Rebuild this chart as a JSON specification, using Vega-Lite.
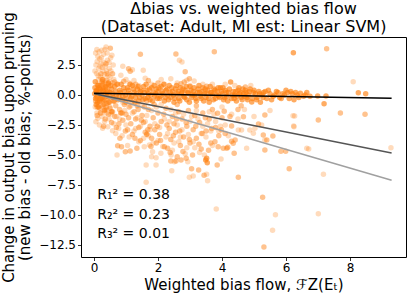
{
  "$schema": "https://vega.github.io/schema/vega-lite/v6.json",
  "width": 325,
  "height": 220,
  "autosize": "none",
  "padding": {"left": 81, "top": 37, "right": 1, "bottom": 38},
  "config": {
    "font": "DejaVu Sans",
    "view": {"stroke": "#000000", "strokeWidth": 1},
    "axis": {"grid": false, "domain": false, "tickColor": "#000000", "tickSize": 3.5, "tickWidth": 0.8, "labelColor": "#000000", "labelFontSize": 12, "titleColor": "#000000", "titleFontSize": 15, "titleFontWeight": "normal", "labelPadding": 2}
  },
  "title": {"text": ["Δbias vs. weighted bias flow", "(Dataset: Adult, MI est: Linear SVM)"], "fontSize": 16, "fontWeight": "normal", "lineHeight": 18, "offset": -23, "color": "#000000", "anchor": "middle"},
  "datasets": {
    "pts": [
      {"x":0.05,"y":3.5,"s":"L"},{"x":0.1,"y":2.8,"s":"L"},{"x":0.12,"y":3.2,"s":"L"},{"x":0.15,"y":2.2,"s":"L"},{"x":0.18,"y":3.0,"s":"L"},{"x":0.2,"y":1.5,"s":"L"},{"x":0.22,"y":2.6,"s":"L"},{"x":0.24,"y":3.72,"s":"L"},{"x":0.25,"y":1.0,"s":"L"},{"x":0.28,"y":2.0,"s":"L"},{"x":0.3,"y":3.4,"s":"L"},{"x":0.33,"y":1.7,"s":"L"},{"x":0.35,"y":2.4,"s":"L"},{"x":0.375,"y":4.0,"s":"L"},{"x":0.4,"y":1.2,"s":"L"},{"x":0.42,"y":2.9,"s":"L"},{"x":0.45,"y":0.7,"s":"L"},{"x":0.48,"y":2.2,"s":"L"},{"x":0.5,"y":1.5,"s":"L"},{"x":0.52,"y":3.1,"s":"L"},{"x":0.56,"y":3.31,"s":"L"},{"x":0.6,"y":2.5,"s":"L"},{"x":0.62,"y":1.3,"s":"L"},{"x":0.08,"y":1.8,"s":"L"},{"x":0.1,"y":0.9,"s":"L"},{"x":0.14,"y":1.3,"s":"L"},{"x":0.28,"y":0.6,"s":"L"},
      {"x":0.03,"y":2.0,"s":"L"},{"x":0.06,"y":2.5,"s":"L"},{"x":0.09,"y":3.8,"s":"L"},{"x":0.13,"y":1.6,"s":"L"},{"x":0.16,"y":3.6,"s":"L"},{"x":0.19,"y":2.4,"s":"L"},{"x":0.21,"y":0.8,"s":"L"},{"x":0.23,"y":3.1,"s":"L"},{"x":0.26,"y":2.3,"s":"L"},{"x":0.29,"y":1.3,"s":"L"},{"x":0.31,"y":2.7,"s":"L"},{"x":0.34,"y":3.8,"s":"L"},{"x":0.36,"y":1.0,"s":"L"},{"x":0.39,"y":2.0,"s":"L"},{"x":0.41,"y":3.5,"s":"L"},{"x":0.44,"y":1.6,"s":"L"},{"x":0.47,"y":2.7,"s":"L"},{"x":0.49,"y":1.1,"s":"L"},{"x":0.53,"y":2.0,"s":"L"},{"x":0.57,"y":1.0,"s":"L"},
      {"x":0.84,"y":1.64,"s":"L"},{"x":1.54,"y":2.06,"s":"L"},{"x":0.375,"y":1.22,"s":"L"},{"x":1.0,"y":1.3,"s":"L"},{"x":1.25,"y":1.2,"s":"L"},{"x":1.6,"y":1.4,"s":"L"},{"x":2.1,"y":1.3,"s":"L"},{"x":2.4,"y":1.35,"s":"L"},{"x":2.67,"y":2.89,"s":"L"},{"x":2.75,"y":2.75,"s":"L"},{"x":2.9,"y":1.22,"s":"L"},{"x":3.13,"y":1.17,"s":"L"},{"x":0.7,"y":0.9,"s":"L"},{"x":1.4,"y":0.8,"s":"L"},{"x":2.2,"y":0.9,"s":"L"},{"x":3.4,"y":0.9,"s":"L"},{"x":4.4,"y":0.8,"s":"L"},{"x":8.1,"y":1.11,"s":"L"},{"x":0.9,"y":2.4,"s":"L"},{"x":1.2,"y":2.1,"s":"L"},{"x":1.8,"y":0.9,"s":"L"},{"x":2.6,"y":1.0,"s":"L"},{"x":3.0,"y":0.8,"s":"L"},{"x":3.7,"y":0.9,"s":"L"},{"x":4.1,"y":0.9,"s":"L"},{"x":4.9,"y":0.8,"s":"L"},{"x":1.1,"y":1.0,"s":"L"},
      {"x":0.06,"y":-2.22,"s":"L"},{"x":0.27,"y":-2.78,"s":"L"},{"x":0.43,"y":-2.64,"s":"L"},{"x":0.58,"y":-2.97,"s":"L"},{"x":0.12,"y":-1.94,"s":"L"},{"x":0.22,"y":-1.53,"s":"L"},{"x":0.72,"y":-5.0,"s":"L"},{"x":1.57,"y":-4.31,"s":"L"},{"x":1.73,"y":-4.17,"s":"L"},{"x":1.83,"y":-4.72,"s":"L"},{"x":1.8,"y":-5.14,"s":"L"},{"x":1.94,"y":-5.22,"s":"L"},{"x":2.09,"y":-4.86,"s":"L"},{"x":2.41,"y":-5.0,"s":"L"},{"x":2.51,"y":-5.56,"s":"L"},{"x":2.93,"y":-5.56,"s":"L"},{"x":1.63,"y":-5.83,"s":"L"},{"x":1.94,"y":-5.83,"s":"L"},{"x":1.63,"y":-7.28,"s":"L"},{"x":2.43,"y":-6.31,"s":"L"},{"x":2.98,"y":-6.86,"s":"L"},{"x":3.1,"y":-6.75,"s":"L"},{"x":3.55,"y":-7.14,"s":"L"},{"x":3.97,"y":-5.33,"s":"L"},{"x":4.77,"y":-4.44,"s":"L"},{"x":5.34,"y":-3.75,"s":"L"},{"x":4.87,"y":-2.92,"s":"L"},{"x":4.98,"y":-3.19,"s":"L"},{"x":4.51,"y":-2.92,"s":"L"},{"x":4.61,"y":-2.92,"s":"L"},{"x":6.24,"y":-2.58,"s":"L"},{"x":6.22,"y":-1.72,"s":"L"},{"x":6.27,"y":-1.75,"s":"L"},{"x":6.25,"y":-2.64,"s":"L"},{"x":6.71,"y":-4.5,"s":"L"},{"x":9.28,"y":-4.39,"s":"L"},{"x":7.17,"y":-6.61,"s":"L"},{"x":7.01,"y":-9.89,"s":"L"},{"x":3.82,"y":-9.5,"s":"L"},{"x":5.67,"y":-9.97,"s":"L"},{"x":5.58,"y":-11.28,"s":"L"},{"x":5.24,"y":-2.5,"s":"L"},{"x":5.03,"y":-2.78,"s":"L"},{"x":6.65,"y":-4.44,"s":"L"},{"x":3.52,"y":-6.6,"s":"L"},
      {"x":0.3,"y":-0.5,"s":"L"},{"x":0.5,"y":-1.0,"s":"L"},{"x":0.7,"y":-1.8,"s":"L"},{"x":0.9,"y":-0.6,"s":"L"},{"x":1.0,"y":-2.5,"s":"L"},{"x":1.1,"y":-3.5,"s":"L"},{"x":1.2,"y":-1.5,"s":"L"},{"x":1.3,"y":-2.8,"s":"L"},{"x":1.4,"y":-3.9,"s":"L"},{"x":1.5,"y":-0.9,"s":"L"},{"x":1.6,"y":-2.2,"s":"L"},{"x":1.7,"y":-3.4,"s":"L"},{"x":1.8,"y":-1.3,"s":"L"},{"x":1.9,"y":-2.4,"s":"L"},{"x":2.0,"y":-3.8,"s":"L"},{"x":2.1,"y":-0.8,"s":"L"},{"x":2.2,"y":-2.0,"s":"L"},{"x":2.3,"y":-3.2,"s":"L"},{"x":2.4,"y":-1.2,"s":"L"},{"x":2.5,"y":-4.0,"s":"L"},{"x":2.6,"y":-2.5,"s":"L"},{"x":2.7,"y":-3.5,"s":"L"},{"x":2.8,"y":-1.6,"s":"L"},{"x":2.9,"y":-4.4,"s":"L"},{"x":3.0,"y":-2.2,"s":"L"},{"x":3.1,"y":-3.9,"s":"L"},{"x":3.2,"y":-1.3,"s":"L"},{"x":3.3,"y":-4.8,"s":"L"},{"x":3.4,"y":-2.6,"s":"L"},{"x":3.5,"y":-3.5,"s":"L"},{"x":3.6,"y":-1.4,"s":"L"},{"x":3.7,"y":-4.2,"s":"L"},{"x":3.8,"y":-2.2,"s":"L"},{"x":3.9,"y":-3.0,"s":"L"},{"x":4.0,"y":-1.0,"s":"L"},{"x":4.1,"y":-2.5,"s":"L"},{"x":4.2,"y":-3.4,"s":"L"},{"x":4.3,"y":-1.6,"s":"L"},{"x":4.5,"y":-2.0,"s":"L"},{"x":4.7,"y":-1.2,"s":"L"},{"x":5.0,"y":-1.8,"s":"L"},{"x":5.5,"y":-1.3,"s":"L"},{"x":0.2,"y":-0.3,"s":"L"},{"x":0.4,"y":-1.2,"s":"L"},{"x":0.6,"y":-0.2,"s":"L"},{"x":0.8,"y":-2.0,"s":"L"},
      {"x":0.04,"y":-1.0,"s":"L"},{"x":0.09,"y":-1.5,"s":"L"},{"x":0.17,"y":-2.5,"s":"L"},{"x":0.25,"y":-1.8,"s":"L"},{"x":0.33,"y":-2.2,"s":"L"},{"x":0.38,"y":-1.5,"s":"L"},{"x":0.47,"y":-2.0,"s":"L"},{"x":0.53,"y":-1.6,"s":"L"},{"x":0.62,"y":-2.4,"s":"L"},{"x":0.68,"y":-3.2,"s":"L"},{"x":0.77,"y":-2.8,"s":"L"},{"x":0.88,"y":-3.4,"s":"L"},{"x":0.96,"y":-1.3,"s":"L"},{"x":1.05,"y":-4.2,"s":"L"},{"x":1.15,"y":-0.9,"s":"L"},{"x":1.25,"y":-3.0,"s":"L"},{"x":1.35,"y":-1.9,"s":"L"},{"x":1.45,"y":-2.6,"s":"L"},{"x":1.55,"y":-3.6,"s":"L"},{"x":1.65,"y":-1.7,"s":"L"},{"x":1.75,"y":-2.9,"s":"L"},{"x":1.85,"y":-4.0,"s":"L"},{"x":1.95,"y":-1.0,"s":"L"},{"x":2.05,"y":-2.7,"s":"L"},{"x":2.15,"y":-4.3,"s":"L"},{"x":2.25,"y":-3.5,"s":"L"},{"x":2.35,"y":-2.2,"s":"L"},{"x":2.45,"y":-4.6,"s":"L"},{"x":2.55,"y":-1.5,"s":"L"},{"x":2.65,"y":-3.9,"s":"L"},{"x":2.75,"y":-2.9,"s":"L"},{"x":2.85,"y":-4.9,"s":"L"},{"x":2.95,"y":-3.3,"s":"L"},{"x":3.05,"y":-1.8,"s":"L"},{"x":3.15,"y":-4.4,"s":"L"},{"x":3.25,"y":-2.0,"s":"L"},{"x":3.35,"y":-3.2,"s":"L"},{"x":3.45,"y":-5.0,"s":"L"},{"x":3.55,"y":-2.4,"s":"L"},{"x":3.65,"y":-3.0,"s":"L"},{"x":3.75,"y":-1.6,"s":"L"},{"x":3.95,"y":-2.6,"s":"L"},
      {"x":0.51,"y":3.89,"s":"M"},{"x":1.45,"y":3.39,"s":"M"},{"x":2.56,"y":3.42,"s":"M"},{"x":3.76,"y":3.61,"s":"M"},{"x":7.27,"y":3.86,"s":"M"},{"x":0.375,"y":2.61,"s":"M"},{"x":0.22,"y":1.78,"s":"M"},{"x":0.41,"y":1.78,"s":"M"},{"x":0.58,"y":1.78,"s":"M"},{"x":1.08,"y":2.19,"s":"M"},{"x":1.13,"y":1.97,"s":"M"},{"x":0.64,"y":1.08,"s":"M"},{"x":0.93,"y":1.14,"s":"M"},{"x":2.85,"y":1.94,"s":"M"},{"x":3.52,"y":0.72,"s":"M"},{"x":4.73,"y":0.67,"s":"M"},{"x":2.72,"y":0.94,"s":"M"},{"x":2.82,"y":1.08,"s":"M"},{"x":2.98,"y":1.36,"s":"M"},{"x":0.3,"y":0.5,"s":"M"},{"x":0.15,"y":0.8,"s":"M"},{"x":1.3,"y":0.9,"s":"M"},{"x":2.0,"y":1.0,"s":"M"},{"x":1.7,"y":1.2,"s":"M"},{"x":0.12,"y":0.4,"s":"M"},{"x":0.25,"y":1.1,"s":"M"},{"x":0.45,"y":0.9,"s":"M"},
      {"x":0.05,"y":-0.5,"s":"M"},{"x":0.1,"y":-1.0,"s":"M"},{"x":0.15,"y":-0.6,"s":"M"},{"x":0.2,"y":-1.5,"s":"M"},{"x":0.25,"y":-0.9,"s":"M"},{"x":0.32,"y":-1.31,"s":"M"},{"x":0.35,"y":-2.0,"s":"M"},{"x":0.4,"y":-0.7,"s":"M"},{"x":0.45,"y":-1.6,"s":"M"},{"x":0.5,"y":-1.1,"s":"M"},{"x":0.55,"y":-2.3,"s":"M"},{"x":0.6,"y":-0.5,"s":"M"},{"x":0.65,"y":-1.8,"s":"M"},{"x":0.7,"y":-2.7,"s":"M"},{"x":0.74,"y":-4.22,"s":"M"},{"x":0.81,"y":-3.61,"s":"M"},{"x":0.86,"y":-4.31,"s":"M"},{"x":0.8,"y":-1.2,"s":"M"},{"x":0.9,"y":-2.1,"s":"M"},{"x":0.95,"y":-0.8,"s":"M"},{"x":0.98,"y":-4.72,"s":"M"},{"x":1.0,"y":-1.6,"s":"M"},{"x":1.05,"y":-2.9,"s":"M"},{"x":1.1,"y":-1.0,"s":"M"},{"x":1.13,"y":-4.67,"s":"M"},{"x":1.15,"y":-2.4,"s":"M"},{"x":1.2,"y":-3.3,"s":"M"},{"x":1.25,"y":-1.4,"s":"M"},{"x":1.3,"y":-2.0,"s":"M"},{"x":1.34,"y":-4.44,"s":"M"},{"x":1.35,"y":-0.9,"s":"M"},{"x":1.4,"y":-2.7,"s":"M"},{"x":1.45,"y":-3.8,"s":"M"},{"x":1.5,"y":-1.7,"s":"M"},{"x":1.55,"y":-2.3,"s":"M"},{"x":1.6,"y":-3.1,"s":"M"},{"x":1.7,"y":-1.2,"s":"M"},{"x":1.75,"y":-2.6,"s":"M"},{"x":1.8,"y":-3.6,"s":"M"},{"x":1.85,"y":-1.9,"s":"M"},{"x":1.9,"y":-2.9,"s":"M"},{"x":1.95,"y":-4.0,"s":"M"},{"x":2.0,"y":-1.5,"s":"M"},{"x":2.05,"y":-3.3,"s":"M"},{"x":2.1,"y":-2.2,"s":"M"},{"x":2.2,"y":-4.31,"s":"M"},{"x":2.25,"y":-1.1,"s":"M"},{"x":2.3,"y":-4.44,"s":"M"},{"x":2.35,"y":-2.8,"s":"M"},{"x":2.4,"y":-3.7,"s":"M"},{"x":2.45,"y":-1.8,"s":"M"},{"x":2.5,"y":-2.4,"s":"M"},{"x":2.55,"y":-3.1,"s":"M"},{"x":2.6,"y":-5.14,"s":"M"},{"x":2.65,"y":-1.4,"s":"M"},{"x":2.7,"y":-4.2,"s":"M"},{"x":2.72,"y":-5.42,"s":"M"},{"x":2.75,"y":-2.0,"s":"M"},{"x":2.8,"y":-3.5,"s":"M"},{"x":2.88,"y":-5.28,"s":"M"},{"x":2.9,"y":-2.6,"s":"M"},{"x":2.95,"y":-1.3,"s":"M"},{"x":3.0,"y":-4.0,"s":"M"},{"x":3.05,"y":-6.14,"s":"M"},{"x":3.1,"y":-2.9,"s":"M"},{"x":3.15,"y":-1.7,"s":"M"},{"x":3.2,"y":-3.6,"s":"M"},{"x":3.27,"y":-6.25,"s":"M"},{"x":3.3,"y":-2.3,"s":"M"},{"x":3.35,"y":-4.5,"s":"M"},{"x":3.4,"y":-1.5,"s":"M"},{"x":3.44,"y":-6.69,"s":"M"},{"x":3.5,"y":-3.0,"s":"M"},{"x":3.6,"y":-2.0,"s":"M"},{"x":3.65,"y":-4.0,"s":"M"},{"x":3.7,"y":-1.2,"s":"M"},{"x":3.8,"y":-2.7,"s":"M"},{"x":3.85,"y":-5.83,"s":"M"},{"x":3.88,"y":-4.31,"s":"M"},{"x":3.9,"y":-3.4,"s":"M"},{"x":4.0,"y":-1.9,"s":"M"},{"x":4.04,"y":-4.44,"s":"M"},{"x":4.07,"y":-1.35,"s":"M"},{"x":4.15,"y":-4.44,"s":"M"},{"x":4.18,"y":-4.36,"s":"M"},{"x":4.3,"y":-3.86,"s":"M"},{"x":4.3,"y":-2.58,"s":"M"},{"x":4.38,"y":-4.86,"s":"M"},{"x":4.41,"y":-3.75,"s":"M"},{"x":4.35,"y":-4.03,"s":"M"},{"x":4.51,"y":-6.86,"s":"M"},{"x":4.67,"y":-1.81,"s":"M"},{"x":5.14,"y":-2.42,"s":"M"},{"x":5.27,"y":-8.53,"s":"M"},{"x":5.29,"y":-3.33,"s":"M"},{"x":5.31,"y":-12.67,"s":"M"},{"x":5.34,"y":-4.58,"s":"M"},{"x":5.34,"y":-1.67,"s":"M"},{"x":5.4,"y":-3.75,"s":"M"},{"x":5.59,"y":-3.42,"s":"M"},{"x":5.84,"y":-4.69,"s":"M"},{"x":5.99,"y":-4.69,"s":"M"},{"x":6.1,"y":-6.14,"s":"M"},{"x":7.01,"y":-2.08,"s":"M"},{"x":7.7,"y":-1.5,"s":"M"},{"x":8.47,"y":-1.61,"s":"M"},{"x":2.4,"y":-5.5,"s":"M"},{"x":2.56,"y":-5.5,"s":"M"},{"x":1.65,"y":-0.5,"s":"M"},{"x":2.6,"y":-0.8,"s":"M"},{"x":3.2,"y":-0.9,"s":"M"},{"x":4.6,"y":-0.9,"s":"M"},{"x":3.86,"y":-1.52,"s":"M"},
      {"x":0.08,"y":-0.2,"s":"M"},{"x":0.18,"y":-1.1,"s":"M"},{"x":0.28,"y":-0.4,"s":"M"},{"x":0.38,"y":-1.0,"s":"M"},{"x":0.48,"y":-0.6,"s":"M"},{"x":0.58,"y":-1.4,"s":"M"},{"x":0.68,"y":-0.9,"s":"M"},{"x":0.78,"y":-2.4,"s":"M"},{"x":0.88,"y":-1.5,"s":"M"},{"x":0.98,"y":-3.0,"s":"M"},{"x":1.08,"y":-1.9,"s":"M"},{"x":1.18,"y":-0.6,"s":"M"},{"x":1.28,"y":-3.6,"s":"M"},{"x":1.38,"y":-1.2,"s":"M"},{"x":1.48,"y":-2.1,"s":"M"},{"x":1.58,"y":-1.0,"s":"M"},{"x":1.68,"y":-2.9,"s":"M"},{"x":1.78,"y":-4.3,"s":"M"},{"x":1.88,"y":-0.8,"s":"M"},{"x":1.98,"y":-2.6,"s":"M"},{"x":2.08,"y":-3.8,"s":"M"},{"x":2.18,"y":-1.6,"s":"M"},{"x":2.28,"y":-2.5,"s":"M"},{"x":2.38,"y":-4.8,"s":"M"},{"x":2.48,"y":-3.4,"s":"M"},{"x":2.58,"y":-2.0,"s":"M"},{"x":2.68,"y":-3.0,"s":"M"},{"x":2.78,"y":-4.7,"s":"M"},{"x":2.88,"y":-2.3,"s":"M"},{"x":2.98,"y":-3.7,"s":"M"},{"x":3.08,"y":-5.0,"s":"M"},{"x":3.18,"y":-2.6,"s":"M"},{"x":3.28,"y":-4.1,"s":"M"},{"x":3.38,"y":-3.2,"s":"M"},{"x":3.48,"y":-1.9,"s":"M"},{"x":3.58,"y":-4.6,"s":"M"},{"x":3.68,"y":-2.8,"s":"M"},{"x":3.78,"y":-3.9,"s":"M"},{"x":3.98,"y":-2.9,"s":"M"},{"x":4.1,"y":-3.2,"s":"M"},{"x":4.25,"y":-1.8,"s":"M"},{"x":4.5,"y":-1.2,"s":"M"},{"x":0.1,"y":-1.7,"s":"M"},{"x":0.3,"y":-2.6,"s":"M"},
      {"x":0.02,"y":0.1,"s":"D"},{"x":0.05,"y":-0.3,"s":"D"},{"x":0.08,"y":0.4,"s":"D"},{"x":0.1,"y":-0.1,"s":"D"},{"x":0.12,"y":0.8,"s":"D"},{"x":0.15,"y":0.2,"s":"D"},{"x":0.18,"y":-0.5,"s":"D"},{"x":0.2,"y":0.5,"s":"D"},{"x":0.22,"y":0.0,"s":"D"},{"x":0.25,"y":-0.2,"s":"D"},{"x":0.28,"y":0.9,"s":"D"},{"x":0.3,"y":0.3,"s":"D"},{"x":0.33,"y":-0.4,"s":"D"},{"x":0.35,"y":0.1,"s":"D"},{"x":0.38,"y":0.6,"s":"D"},{"x":0.4,"y":-0.1,"s":"D"},{"x":0.43,"y":0.3,"s":"D"},{"x":0.46,"y":-0.6,"s":"D"},{"x":0.5,"y":0.2,"s":"D"},{"x":0.04,"y":1.1,"s":"D"},{"x":0.07,"y":-0.8,"s":"D"},{"x":0.14,"y":-1.0,"s":"D"},{"x":0.26,"y":1.3,"s":"D"},{"x":0.34,"y":-1.25,"s":"D"},{"x":0.55,"y":-1.39,"s":"D"},{"x":0.03,"y":0.6,"s":"D"},{"x":0.45,"y":1.0,"s":"D"},
      {"x":0.55,"y":0.5,"s":"D"},{"x":0.6,"y":-0.2,"s":"D"},{"x":0.65,"y":0.7,"s":"D"},{"x":0.7,"y":0.0,"s":"D"},{"x":0.75,"y":-0.4,"s":"D"},{"x":0.8,"y":0.4,"s":"D"},{"x":0.85,"y":0.9,"s":"D"},{"x":0.9,"y":-0.1,"s":"D"},{"x":0.95,"y":0.3,"s":"D"},{"x":1.0,"y":-0.6,"s":"D"},{"x":1.05,"y":0.6,"s":"D"},{"x":1.1,"y":0.1,"s":"D"},{"x":1.15,"y":-0.3,"s":"D"},{"x":1.2,"y":0.8,"s":"D"},{"x":1.25,"y":0.2,"s":"D"},{"x":1.3,"y":-0.2,"s":"D"},{"x":1.35,"y":0.5,"s":"D"},{"x":1.4,"y":-0.5,"s":"D"},{"x":1.45,"y":0.3,"s":"D"},{"x":1.5,"y":0.0,"s":"D"},{"x":1.55,"y":0.7,"s":"D"},{"x":1.6,"y":-0.3,"s":"D"},{"x":1.65,"y":0.4,"s":"D"},{"x":1.7,"y":0.1,"s":"D"},{"x":1.75,"y":-0.4,"s":"D"},{"x":1.8,"y":0.6,"s":"D"},{"x":1.85,"y":0.2,"s":"D"},{"x":1.9,"y":-0.1,"s":"D"},{"x":1.95,"y":0.5,"s":"D"},{"x":1.65,"y":-3.28,"s":"D"},{"x":0.84,"y":-1.5,"s":"D"},
      {"x":2.0,"y":0.3,"s":"D"},{"x":2.05,"y":-0.3,"s":"D"},{"x":2.1,"y":0.7,"s":"D"},{"x":2.15,"y":0.1,"s":"D"},{"x":2.2,"y":-0.5,"s":"D"},{"x":2.25,"y":0.4,"s":"D"},{"x":2.3,"y":0.0,"s":"D"},{"x":2.35,"y":0.8,"s":"D"},{"x":2.4,"y":-0.2,"s":"D"},{"x":2.45,"y":0.3,"s":"D"},{"x":2.5,"y":-0.6,"s":"D"},{"x":2.55,"y":0.5,"s":"D"},{"x":2.6,"y":0.1,"s":"D"},{"x":2.65,"y":-0.3,"s":"D"},{"x":2.7,"y":0.6,"s":"D"},{"x":2.75,"y":0.2,"s":"D"},{"x":2.8,"y":-0.1,"s":"D"},{"x":2.85,"y":0.4,"s":"D"},{"x":2.9,"y":-0.4,"s":"D"},{"x":2.95,"y":0.1,"s":"D"},{"x":3.0,"y":0.7,"s":"D"},{"x":3.05,"y":-0.2,"s":"D"},{"x":3.1,"y":0.3,"s":"D"},{"x":3.15,"y":0.0,"s":"D"},{"x":3.2,"y":-0.5,"s":"D"},{"x":3.25,"y":0.5,"s":"D"},{"x":3.3,"y":0.2,"s":"D"},{"x":3.35,"y":-0.3,"s":"D"},{"x":3.4,"y":0.6,"s":"D"},{"x":3.45,"y":0.1,"s":"D"},{"x":3.5,"y":-0.2,"s":"D"},{"x":3.55,"y":0.4,"s":"D"},{"x":3.6,"y":-0.6,"s":"D"},{"x":3.65,"y":0.2,"s":"D"},{"x":3.7,"y":0.0,"s":"D"},{"x":3.75,"y":0.5,"s":"D"},{"x":3.8,"y":-0.3,"s":"D"},{"x":3.85,"y":0.3,"s":"D"},{"x":3.9,"y":-0.1,"s":"D"},{"x":3.95,"y":0.6,"s":"D"},{"x":3.49,"y":-5.42,"s":"D"},{"x":3.54,"y":-5.64,"s":"D"},{"x":3.52,"y":-5.28,"s":"D"},
      {"x":4.0,"y":0.1,"s":"D"},{"x":4.05,"y":-0.4,"s":"D"},{"x":4.1,"y":0.4,"s":"D"},{"x":4.15,"y":-0.1,"s":"D"},{"x":4.2,"y":0.2,"s":"D"},{"x":4.27,"y":1.08,"s":"D"},{"x":4.3,"y":-0.3,"s":"D"},{"x":4.35,"y":0.3,"s":"D"},{"x":4.4,"y":0.0,"s":"D"},{"x":4.45,"y":-0.5,"s":"D"},{"x":4.5,"y":0.4,"s":"D"},{"x":4.55,"y":0.1,"s":"D"},{"x":4.6,"y":-0.2,"s":"D"},{"x":4.65,"y":0.5,"s":"D"},{"x":4.7,"y":-0.1,"s":"D"},{"x":4.75,"y":0.2,"s":"D"},{"x":4.8,"y":-0.4,"s":"D"},{"x":4.85,"y":0.3,"s":"D"},{"x":4.93,"y":-0.58,"s":"D"},{"x":4.95,"y":-0.3,"s":"D"},{"x":5.0,"y":0.4,"s":"D"},{"x":5.05,"y":0.1,"s":"D"},{"x":5.1,"y":-0.2,"s":"D"},{"x":5.15,"y":0.3,"s":"D"},{"x":5.2,"y":-0.6,"s":"D"},{"x":5.25,"y":0.0,"s":"D"},{"x":5.3,"y":0.2,"s":"D"},{"x":5.4,"y":-0.3,"s":"D"},{"x":5.45,"y":0.4,"s":"D"},{"x":5.5,"y":0.1,"s":"D"},
      {"x":5.6,"y":-0.1,"s":"D"},{"x":5.7,"y":0.3,"s":"D"},{"x":5.8,"y":-0.2,"s":"D"},{"x":5.9,"y":0.1,"s":"D"},{"x":6.0,"y":0.4,"s":"D"},{"x":6.1,"y":-0.3,"s":"D"},{"x":6.2,"y":0.1,"s":"D"},{"x":6.25,"y":-0.4,"s":"D"},{"x":6.3,"y":0.2,"s":"D"},{"x":6.35,"y":0.0,"s":"D"},{"x":6.45,"y":0.15,"s":"D"},{"x":6.55,"y":-0.1,"s":"D"},{"x":6.65,"y":0.2,"s":"D"},{"x":6.99,"y":-0.08,"s":"D"},{"x":7.25,"y":-0.08,"s":"D"},{"x":7.19,"y":-0.72,"s":"D"},{"x":6.23,"y":3.53,"s":"D"},{"x":8.26,"y":0.19,"s":"D"},{"x":8.49,"y":0.11,"s":"D"},
      {"x":0.06,"y":0.3,"s":"D"},{"x":0.11,"y":-0.6,"s":"D"},{"x":0.16,"y":0.6,"s":"D"},{"x":0.21,"y":-0.3,"s":"D"},{"x":0.27,"y":0.4,"s":"D"},{"x":0.31,"y":-0.8,"s":"D"},{"x":0.36,"y":0.7,"s":"D"},{"x":0.41,"y":0.2,"s":"D"},{"x":0.47,"y":-0.2,"s":"D"},{"x":0.52,"y":0.8,"s":"D"},{"x":0.58,"y":0.1,"s":"D"},{"x":0.63,"y":-0.5,"s":"D"},{"x":0.68,"y":0.3,"s":"D"},{"x":0.73,"y":0.9,"s":"D"},{"x":0.78,"y":-0.1,"s":"D"},{"x":0.83,"y":0.2,"s":"D"},{"x":0.88,"y":-0.4,"s":"D"},{"x":0.93,"y":0.6,"s":"D"},{"x":0.98,"y":0.0,"s":"D"},{"x":1.03,"y":-0.3,"s":"D"},{"x":1.08,"y":0.4,"s":"D"},{"x":1.13,"y":0.9,"s":"D"},{"x":1.18,"y":-0.1,"s":"D"},{"x":1.23,"y":0.5,"s":"D"},{"x":1.28,"y":-0.6,"s":"D"},{"x":1.33,"y":0.1,"s":"D"},{"x":1.38,"y":0.7,"s":"D"},{"x":1.43,"y":-0.2,"s":"D"},{"x":1.48,"y":0.4,"s":"D"},{"x":1.53,"y":-0.4,"s":"D"},{"x":1.58,"y":0.2,"s":"D"},{"x":1.63,"y":0.9,"s":"D"},{"x":1.68,"y":-0.2,"s":"D"},{"x":1.73,"y":0.5,"s":"D"},{"x":1.78,"y":0.0,"s":"D"},{"x":1.83,"y":-0.5,"s":"D"},{"x":1.88,"y":0.8,"s":"D"},{"x":1.93,"y":0.1,"s":"D"},{"x":1.98,"y":-0.3,"s":"D"},{"x":2.03,"y":0.6,"s":"D"},{"x":2.08,"y":-0.1,"s":"D"},{"x":2.13,"y":0.3,"s":"D"},{"x":2.18,"y":0.9,"s":"D"},{"x":2.23,"y":-0.2,"s":"D"},{"x":2.28,"y":0.5,"s":"D"},{"x":2.33,"y":-0.4,"s":"D"},{"x":2.38,"y":0.2,"s":"D"},{"x":2.43,"y":0.6,"s":"D"},{"x":2.48,"y":0.0,"s":"D"},{"x":2.53,"y":-0.3,"s":"D"},{"x":2.58,"y":0.8,"s":"D"},{"x":2.63,"y":0.3,"s":"D"},{"x":2.68,"y":-0.5,"s":"D"},{"x":2.73,"y":0.1,"s":"D"},{"x":2.78,"y":0.5,"s":"D"},{"x":2.83,"y":-0.2,"s":"D"},{"x":2.88,"y":0.7,"s":"D"},{"x":2.93,"y":0.2,"s":"D"},{"x":2.98,"y":-0.6,"s":"D"},{"x":3.03,"y":0.4,"s":"D"},{"x":3.08,"y":0.0,"s":"D"},{"x":3.13,"y":0.6,"s":"D"},{"x":3.18,"y":-0.3,"s":"D"},{"x":3.23,"y":0.2,"s":"D"},{"x":3.28,"y":0.8,"s":"D"},{"x":3.33,"y":-0.1,"s":"D"},{"x":3.38,"y":0.3,"s":"D"},{"x":3.43,"y":-0.5,"s":"D"},{"x":3.48,"y":0.5,"s":"D"},{"x":3.53,"y":0.1,"s":"D"},{"x":3.58,"y":-0.3,"s":"D"},{"x":3.63,"y":0.7,"s":"D"},{"x":3.68,"y":0.2,"s":"D"},{"x":3.73,"y":-0.4,"s":"D"},{"x":3.78,"y":0.4,"s":"D"},{"x":3.83,"y":0.0,"s":"D"},{"x":3.88,"y":0.6,"s":"D"},{"x":3.93,"y":-0.2,"s":"D"},{"x":3.98,"y":0.3,"s":"D"},{"x":4.03,"y":0.6,"s":"D"},{"x":4.08,"y":-0.2,"s":"D"},{"x":4.13,"y":0.2,"s":"D"},{"x":4.18,"y":-0.5,"s":"D"},{"x":4.23,"y":0.5,"s":"D"},{"x":4.33,"y":0.0,"s":"D"},{"x":4.38,"y":-0.3,"s":"D"},{"x":4.43,"y":0.3,"s":"D"},{"x":4.48,"y":-0.1,"s":"D"},{"x":4.53,"y":0.6,"s":"D"},{"x":4.58,"y":0.2,"s":"D"},{"x":4.63,"y":-0.4,"s":"D"},{"x":4.68,"y":0.1,"s":"D"},{"x":4.73,"y":0.4,"s":"D"},{"x":4.78,"y":-0.2,"s":"D"},{"x":4.83,"y":0.0,"s":"D"},{"x":4.88,"y":0.5,"s":"D"},{"x":4.98,"y":0.2,"s":"D"},{"x":5.08,"y":-0.4,"s":"D"},{"x":5.18,"y":0.1,"s":"D"},{"x":5.28,"y":-0.2,"s":"D"},{"x":5.35,"y":0.3,"s":"D"},{"x":5.55,"y":-0.4,"s":"D"},{"x":5.65,"y":0.0,"s":"D"},{"x":5.75,"y":0.2,"s":"D"},{"x":5.85,"y":-0.3,"s":"D"},{"x":5.95,"y":0.0,"s":"D"},{"x":6.05,"y":0.2,"s":"D"},{"x":6.15,"y":0.3,"s":"D"},{"x":6.4,"y":-0.2,"s":"D"},{"x":6.6,"y":0.0,"s":"D"},{"x":6.75,"y":-0.1,"s":"D"}
    ],
    "fits": [
      {"x":0,"y":0.15,"g":"r1"},{"x":9.3,"y":-7.11,"g":"r1"},
      {"x":0,"y":0.1,"g":"r2"},{"x":9.3,"y":-4.83,"g":"r2"},
      {"x":0,"y":0.14,"g":"r3"},{"x":9.3,"y":-0.28,"g":"r3"}
    ],
    "labels": [
      {"x":0.1,"y":-8.3,"t":"R₁² = 0.38"},
      {"x":0.1,"y":-9.97,"t":"R₂² = 0.23"},
      {"x":0.1,"y":-11.6,"t":"R₃² = 0.01"}
    ]
  },
  "encoding": {
    "x": {"field": "x", "type": "quantitative", "scale": {"domain": [-0.406, 9.75], "nice": false, "zero": false}, "axis": {"values": [0, 2, 4, 6, 8], "format": "d", "title": "Weighted bias flow, ℱZ(Eₜ)", "titlePadding": 4}},
    "y": {"field": "y", "type": "quantitative", "scale": {"domain": [-13.5, 4.833], "nice": false, "zero": false}, "axis": {"values": [2.5, 0, -2.5, -5, -7.5, -10, -12.5], "format": ".1f", "title": ["Change in output bias upon pruning", "(new bias - old bias; %-points)"], "titlePadding": 6, "titleLineHeight": 16}}
  },
  "layer": [
    {
      "data": {"name": "pts"},
      "mark": {"type": "circle", "size": 30, "color": "#ff7f0e", "strokeWidth": 0},
      "encoding": {"opacity": {"field": "s", "type": "nominal", "scale": {"domain": ["L", "M", "D"], "range": [0.28, 0.65, 0.95]}, "legend": null}}
    },
    {
      "data": {"name": "fits"},
      "mark": {"type": "line", "strokeWidth": 1.5},
      "encoding": {"detail": {"field": "g"}, "color": {"field": "g", "type": "nominal", "scale": {"domain": ["r1", "r2", "r3"], "range": ["#a0a0a0", "#555555", "#000000"]}, "legend": null}}
    },
    {
      "data": {"name": "labels"},
      "mark": {"type": "text", "align": "left", "baseline": "middle", "fontSize": 14, "color": "#000000"},
      "encoding": {"text": {"field": "t"}}
    }
  ]
}
